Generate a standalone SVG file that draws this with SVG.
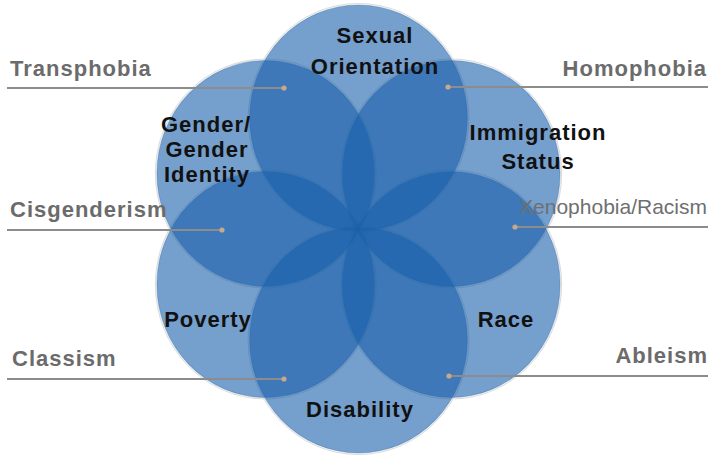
<svg xmlns="http://www.w3.org/2000/svg" width="713" height="456" viewBox="0 0 713 456">
  <style>
    .circle { fill: #195faa; fill-opacity: 0.6; stroke: #2a6cb0; stroke-opacity: 0.35; stroke-width: 1.2; }
    .rim { fill: none; stroke: #dcd9d5; stroke-width: 1; }
    .lbl { font-family: "Liberation Sans", Arial, sans-serif; font-weight: bold; font-size: 22px; letter-spacing: 1px; fill: #111; text-anchor: middle; }
    .ism { font-family: "Liberation Sans", Arial, sans-serif; font-weight: bold; font-size: 22px; letter-spacing: 1px; fill: #6b6b6b; }
    .ism2 { font-family: "Liberation Sans", Arial, sans-serif; font-size: 21px; fill: #6f6f6f; }
    .conn { stroke: #8c8c8c; stroke-width: 2; fill: none; }
    .dot { fill: #c7a98a; }
  </style>

  <g id="rims">
    <ellipse class="rim" cx="358.5" cy="118" rx="110.4" ry="114.5"/>
    <ellipse class="rim" cx="451.2" cy="173.5" rx="110.4" ry="114.5"/>
    <ellipse class="rim" cx="451.2" cy="284.5" rx="110.4" ry="114.5"/>
    <ellipse class="rim" cx="358.5" cy="340" rx="110.4" ry="114.5"/>
    <ellipse class="rim" cx="265.8" cy="284.5" rx="110.4" ry="114.5"/>
    <ellipse class="rim" cx="265.8" cy="173.5" rx="110.4" ry="114.5"/>
  </g>

  <g id="circles">
    <g id="node-sexual-orientation"><ellipse class="circle" cx="358.5" cy="118" rx="108.9" ry="113"/></g>
    <g id="node-immigration-status"><ellipse class="circle" cx="451.2" cy="173.5" rx="108.9" ry="113"/></g>
    <g id="node-race"><ellipse class="circle" cx="451.2" cy="284.5" rx="108.9" ry="113"/></g>
    <g id="node-disability"><ellipse class="circle" cx="358.5" cy="340" rx="108.9" ry="113"/></g>
    <g id="node-poverty"><ellipse class="circle" cx="265.8" cy="284.5" rx="108.9" ry="113"/></g>
    <g id="node-gender"><ellipse class="circle" cx="265.8" cy="173.5" rx="108.9" ry="113"/></g>
  </g>

  <g id="connectors">
    <line class="conn" x1="7" y1="88" x2="284" y2="88"/>
    <line class="conn" x1="448" y1="87" x2="708" y2="87"/>
    <line class="conn" x1="7" y1="230" x2="222" y2="230"/>
    <line class="conn" x1="515" y1="227" x2="708" y2="227"/>
    <line class="conn" x1="7" y1="379" x2="284" y2="379"/>
    <line class="conn" x1="449" y1="376" x2="708" y2="376"/>
    <circle class="dot" cx="284" cy="88" r="2.6"/>
    <circle class="dot" cx="448" cy="87" r="2.6"/>
    <circle class="dot" cx="222" cy="230" r="2.6"/>
    <circle class="dot" cx="515" cy="227" r="2.6"/>
    <circle class="dot" cx="284" cy="379" r="2.6"/>
    <circle class="dot" cx="449" cy="376" r="2.6"/>
  </g>

  <g id="node-labels">
    <g id="label-sexual-orientation">
      <text class="lbl" x="375" y="43">Sexual</text>
      <text class="lbl" x="375" y="74">Orientation</text>
    </g>
    <g id="label-gender">
      <text class="lbl" x="206" y="132">Gender/</text>
      <text class="lbl" x="207" y="157">Gender</text>
      <text class="lbl" x="207" y="182">Identity</text>
    </g>
    <g id="label-immigration-status">
      <text class="lbl" x="538" y="140">Immigration</text>
      <text class="lbl" x="538" y="169">Status</text>
    </g>
    <g id="label-poverty"><text class="lbl" x="208" y="327">Poverty</text></g>
    <g id="label-race"><text class="lbl" x="506" y="327">Race</text></g>
    <g id="label-disability"><text class="lbl" x="360" y="417">Disability</text></g>
  </g>

  <g id="isms">
    <text id="ism-transphobia" class="ism" x="10" y="76">Transphobia</text>
    <text id="ism-homophobia" class="ism" x="707" y="76" text-anchor="end">Homophobia</text>
    <text id="ism-cisgenderism" class="ism" x="10" y="217">Cisgenderism</text>
    <text id="ism-xenophobia" class="ism2" x="707" y="214" text-anchor="end">Xenophobia/Racism</text>
    <text id="ism-classism" class="ism" x="12" y="366">Classism</text>
    <text id="ism-ableism" class="ism" x="708" y="363" text-anchor="end">Ableism</text>
  </g>
</svg>
